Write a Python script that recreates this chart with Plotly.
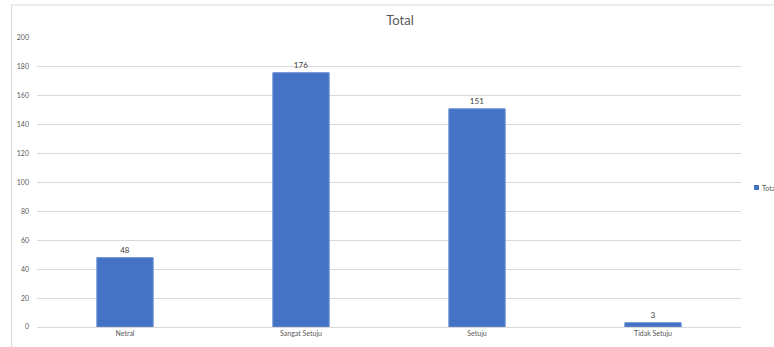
import plotly.graph_objects as go

categories = ["Netral", "Sangat Setuju", "Setuju", "Tidak Setuju"]
values = [48, 176, 151, 3]
series_name = "Total"
y_ticks = [0, 20, 40, 60, 80, 100, 120, 140, 160, 180, 200]

W, H = 774, 347
L, R, T, B = 37, 33, 38, 20
pw = W - L - R
ph = H - T - B

def px2x(px):
    return (px - L) / pw

def py2y(py):
    return (H - B - py) / ph

bar_color = "#4472C4"
fnt = "Lato, 'Open Sans', sans-serif"

fig = go.Figure()
fig.add_trace(go.Bar(
    x=categories, y=values, name=series_name,
    marker=dict(color=bar_color, line=dict(color="#6a8fd3", width=1)),
    width=0.32,
    text=[str(v) for v in values], textposition="outside",
    textfont=dict(size=8, color="#404040", family=fnt),
    cliponaxis=False, showlegend=False,
))

fig.update_layout(
    width=W, height=H,
    margin=dict(l=L, r=R, t=T, b=B, autoexpand=False),
    paper_bgcolor="white", plot_bgcolor="white",
    title=dict(text=series_name, x=400 / W, xanchor="center",
               y=1 - 20 / H, yanchor="middle",
               font=dict(size=13, color="#595959", family=fnt)),
    xaxis=dict(showgrid=False, showline=True, linecolor="#d9d9d9", linewidth=1,
               automargin=False, ticks="",
               tickfont=dict(size=7, color="#595959", family=fnt)),
    yaxis=dict(range=[0, 200], tickvals=y_ticks, showgrid=True, gridcolor="#d9d9d9",
               gridwidth=1, zeroline=False, ticks="", ticklabelstandoff=7,
               automargin=False,
               tickfont=dict(size=7, color="#595959", family=fnt)),
    bargap=0.68,
    font=dict(family=fnt),
)

# chart border (bottom and right edges fall outside the picture)
fig.add_shape(type="rect", xref="paper", yref="paper",
              x0=px2x(11.5), x1=px2x(800), y0=py2y(360), y1=py2y(5),
              line=dict(color="#d9d9d9", width=1), fillcolor="rgba(0,0,0,0)", layer="below")

# legend (custom, partially cut at right edge as in the reference)
fig.add_shape(type="rect", xref="paper", yref="paper",
              x0=px2x(754), x1=px2x(759), y0=py2y(190), y1=py2y(185),
              line=dict(width=0), fillcolor=bar_color)
fig.add_annotation(text=series_name, xref="paper", yref="paper",
                   x=px2x(760), y=py2y(187.5), xanchor="left", yanchor="middle",
                   showarrow=False, font=dict(size=7, color="#595959", family=fnt))

fig.write_html("out.html")
